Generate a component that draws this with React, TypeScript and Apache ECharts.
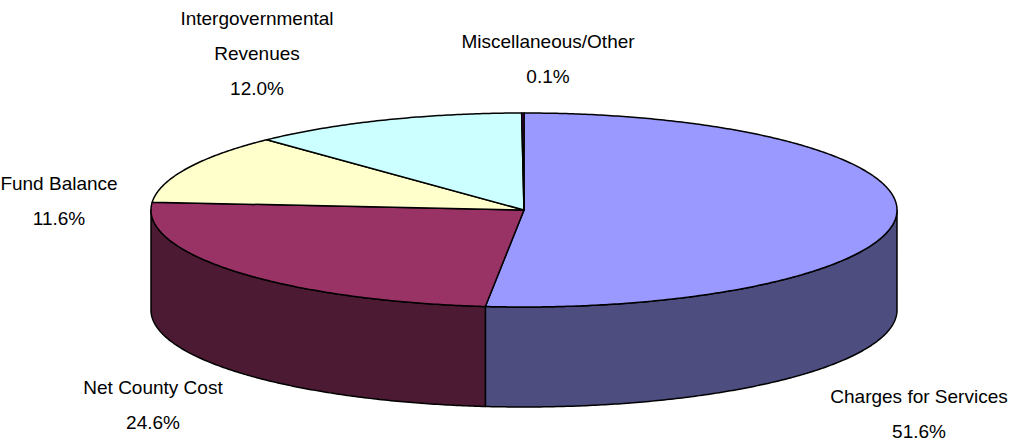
import React, { useEffect, useRef } from 'react';
import * as echarts from 'echarts';

// Revenue sources, in draw order (clockwise from 12 o'clock)
const categories = [
  'Charges for Services',
  'Net County Cost',
  'Fund Balance',
  'Intergovernmental\nRevenues',
  'Miscellaneous/Other',
];
const shares = [51.6, 24.6, 11.6, 12.0, 0.1];
const topColors = ['#9999FF', '#993366', '#FFFFCC', '#CCFFFF', '#660066'];
const sideColors = ['#4D4D80', '#4D1A33', '#80806A', '#6A8080', '#330033'];

// Layout of the tilted pie and its outside labels
const CX = 524;
const CY = 210;
const RX = 373;
const RY = 97;
const DEPTH = 100;
const labelCenters: [number, number][] = [
  [919, 414],
  [153, 405],
  [59, 201],
  [257, 53],
  [548, 59],
];

const total = shares.reduce((a, b) => a + b, 0);

function sliceAngles(i: number): [number, number] {
  let before = 0;
  for (let k = 0; k < i; k++) before += shares[k];
  const a0 = (before / total) * Math.PI * 2;
  const a1 = ((before + shares[i]) / total) * Math.PI * 2;
  return [a0, a1];
}

function arc(a0: number, a1: number, dy = 0): number[][] {
  const n = Math.max(2, Math.ceil((a1 - a0) / (Math.PI / 360)));
  const pts: number[][] = [];
  for (let k = 0; k <= n; k++) {
    const t = a0 + ((a1 - a0) * k) / n;
    pts.push([CX + RX * Math.sin(t), CY - RY * Math.cos(t) + dy]);
  }
  return pts;
}

export default function App() {
  const ref = useRef<HTMLDivElement>(null);

  useEffect(() => {
    if (!ref.current) return;
    const chart = echarts.init(ref.current, undefined, { renderer: 'svg' });
    const data = shares.map((v, i) => ({ value: v, name: categories[i] }));

    chart.setOption({
      animation: false,
      backgroundColor: '#ffffff',
      series: [
        {
          // outer wall of the front half
          type: 'custom',
          coordinateSystem: 'none',
          z: 1,
          silent: true,
          data,
          renderItem: (params: any) => {
            const i = params.dataIndex;
            const [a0, a1] = sliceAngles(i);
            const s = Math.max(a0, Math.PI / 2);
            const e = Math.min(a1, (Math.PI * 3) / 2);
            if (s >= e) return { type: 'group', children: [] };
            const top = arc(s, e, 0);
            const bottom = arc(s, e, DEPTH).reverse();
            return {
              type: 'polygon',
              shape: { points: top.concat(bottom) },
              style: { fill: sideColors[i], stroke: '#000', lineWidth: 1.5, lineJoin: 'round' },
            };
          },
        },
        {
          // top faces and labels
          type: 'custom',
          coordinateSystem: 'none',
          z: 2,
          silent: true,
          data,
          renderItem: (params: any, api: any) => {
            const i = params.dataIndex;
            const [a0, a1] = sliceAngles(i);
            const pts = [[CX, CY]].concat(arc(a0, a1, 0));
            const value = api.value(0) as number;
            const [lx, ly] = labelCenters[i];
            return {
              type: 'group',
              children: [
                {
                  type: 'polygon',
                  shape: { points: pts },
                  style: { fill: topColors[i], stroke: '#000', lineWidth: 1.5, lineJoin: 'round' },
                },
                {
                  type: 'text',
                  x: lx,
                  y: ly,
                  style: {
                    text: `${categories[i]}\n${value.toFixed(1)}%`,
                    fill: '#000',
                    fontSize: 19,
                    fontFamily: '"Liberation Sans", Arial, sans-serif',
                    lineHeight: 35,
                    align: 'center',
                    verticalAlign: 'middle',
                    textAlign: 'center',
                    textVerticalAlign: 'middle',
                  },
                },
              ],
            };
          },
        },
      ],
    });

    return () => chart.dispose();
  }, []);

  return (
    <div
      ref={ref}
      style={{ position: 'fixed', left: 0, top: 0, width: 1009, height: 444, background: '#fff' }}
    />
  );
}
